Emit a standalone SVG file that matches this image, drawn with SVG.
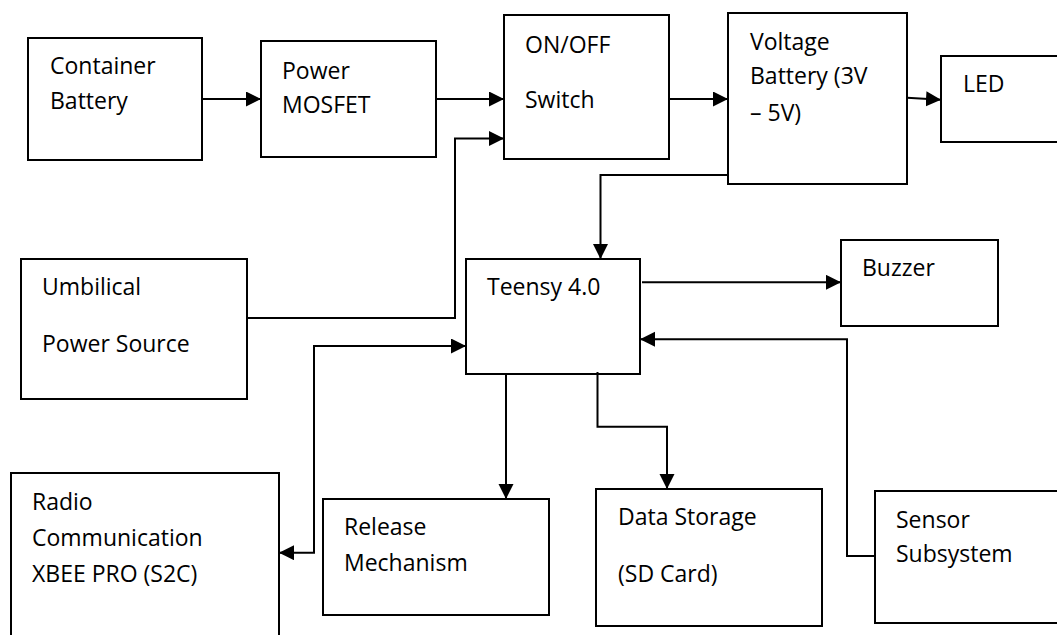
<svg xmlns="http://www.w3.org/2000/svg" width="1057" height="635" viewBox="0 0 1057 635">
<style>
.box{fill:#fff;stroke:#000;stroke-width:2}
.lbl{font-family:"Open Sans","Noto Sans",sans-serif;font-size:23px;fill:#000}
.con{fill:none;stroke:#000;stroke-width:2}
</style>
<defs>
<marker id="ah" markerUnits="userSpaceOnUse" markerWidth="16" markerHeight="16" refX="15" refY="7.5" orient="auto-start-reverse" viewBox="0 0 16 16">
<path d="M0,0 L15,7.5 L0,15 z" fill="#000"/>
</marker>
</defs>
<rect width="1057" height="635" fill="#fff"/>
<g id="container-battery"><rect class="box" x="28" y="38" width="174" height="122"/><text class="lbl" x="50" y="74">Container</text><text class="lbl" x="50" y="109">Battery</text></g>
<g id="power-mosfet"><rect class="box" x="261" y="41" width="175" height="116"/><text class="lbl" x="282" y="79">Power</text><text class="lbl" x="282" y="113">MOSFET</text></g>
<g id="switch"><rect class="box" x="504" y="15" width="165" height="144"/><text class="lbl" x="525" y="53">ON/OFF</text><text class="lbl" x="525" y="108">Switch</text></g>
<g id="voltage-battery"><rect class="box" x="728" y="13" width="179" height="171"/><text class="lbl" x="750" y="50">Voltage</text><text class="lbl" x="750" y="84">Battery (3V</text><text class="lbl" x="750" y="121">– 5V)</text></g>
<g id="led"><rect class="box" x="941" y="56" width="140" height="86"/><text class="lbl" x="963" y="92">LED</text></g>
<g id="umbilical"><rect class="box" x="21" y="259" width="226" height="140"/><text class="lbl" x="42" y="295">Umbilical</text><text class="lbl" x="42" y="352">Power Source</text></g>
<g id="teensy"><rect class="box" x="466" y="259" width="174" height="115"/><text class="lbl" x="487" y="295">Teensy 4.0</text></g>
<g id="buzzer"><rect class="box" x="841" y="240" width="157" height="86"/><text class="lbl" x="862" y="276">Buzzer</text></g>
<g id="radio"><rect class="box" x="11" y="473" width="268" height="200"/><text class="lbl" x="32" y="510">Radio</text><text class="lbl" x="32" y="546">Communication</text><text class="lbl" x="32" y="582">XBEE PRO (S2C)</text></g>
<g id="release"><rect class="box" x="323" y="499" width="226" height="116"/><text class="lbl" x="344" y="535">Release</text><text class="lbl" x="344" y="571">Mechanism</text></g>
<g id="data-storage"><rect class="box" x="596" y="489" width="226" height="137"/><text class="lbl" x="618" y="525">Data Storage</text><text class="lbl" x="618" y="582">(SD Card)</text></g>
<g id="sensor"><rect class="box" x="875" y="491" width="200" height="132"/><text class="lbl" x="896" y="528">Sensor</text><text class="lbl" x="896" y="562">Subsystem</text></g>
<g id="connectors">
<path class="con" d="M202,99 H261" marker-end="url(#ah)"/>
<path class="con" d="M436,99 H504" marker-end="url(#ah)"/>
<path class="con" d="M669,99 H728" marker-end="url(#ah)"/>
<path class="con" d="M907,97.7 L941,99.7" marker-end="url(#ah)"/>
<path class="con" d="M247,318 H455 V138.5 H504" marker-end="url(#ah)"/>
<path class="con" d="M728,175 H600.5 V259" marker-end="url(#ah)"/>
<path class="con" d="M642,282.3 H841" marker-end="url(#ah)"/>
<path class="con" d="M875,556 H847 V339.3 H640" marker-end="url(#ah)"/>
<path class="con" d="M466,346 H314 V552.7 H279" marker-start="url(#ah)" marker-end="url(#ah)"/>
<path class="con" d="M506,374 V499" marker-end="url(#ah)"/>
<path class="con" d="M597.5,372 V426.7 H667 V489" marker-end="url(#ah)"/>
</g>
</svg>
